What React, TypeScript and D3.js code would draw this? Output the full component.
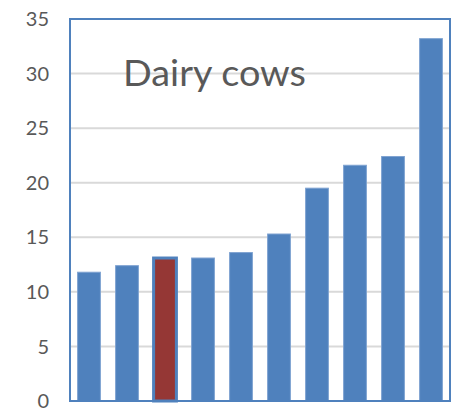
import React from "react";
import * as d3 from "d3";

const categories = ["c1", "c2", "c3", "c4", "c5", "c6", "c7", "c8", "c9", "c10"];
const values = [11.8, 12.4, 13.1, 13.1, 13.6, 15.3, 19.5, 21.6, 22.4, 33.2];
const highlight = [false, false, true, false, false, false, false, false, false, false];
const yTicks = [0, 5, 10, 15, 20, 25, 30, 35];
const title = "Dairy cows";

const W = 462;
const H = 411;
const left = 70;
const right = 450;
const top = 19;
const bottom = 401;

export default function App() {
  const x = d3.scaleBand<string>().domain(categories).range([left, right]).paddingInner(0.4).paddingOuter(0.2);
  const y = d3.scaleLinear().domain([0, 35]).range([bottom, top]);
  const blue = "#4F81BD";
  return (
    <svg width={W} height={H} style={{ position: "absolute", left: 0, top: 0 }}>
      <rect x={0} y={0} width={W} height={H} fill="#fff" />
      {yTicks.map((t) => (
        <g key={t}>
          {t > 0 && t < 35 && (
            <line x1={left} x2={right} y1={y(t)} y2={y(t)} stroke="#d9d9d9" strokeWidth={2} />
          )}
          <text
            x={49}
            y={y(t)}
            dy="0.36em"
            textAnchor="end"
            fontFamily="Lato, 'Open Sans', sans-serif"
            fontSize={20}
            fill="#595959"
          >
            {t}
          </text>
        </g>
      ))}
      <text
        x={123}
        y={86}
        fontFamily="Lato, 'Open Sans', sans-serif"
        fontSize={36}
        fill="#595959"
        textLength={183}
        lengthAdjust="spacingAndGlyphs"
      >
        {title}
      </text>
      {categories.map((c, i) => (
        <rect
          key={c}
          x={x(c)}
          y={y(values[i])}
          width={x.bandwidth()}
          height={bottom - y(values[i])}
          fill={highlight[i] ? "#953735" : blue}
          stroke={highlight[i] ? blue : "#7fa3d1"}
          strokeWidth={highlight[i] ? 3 : 1}
        />
      ))}
      <rect
        x={left}
        y={top}
        width={right - left}
        height={bottom - top}
        fill="none"
        stroke={blue}
        strokeWidth={2}
      />
    </svg>
  );
}
